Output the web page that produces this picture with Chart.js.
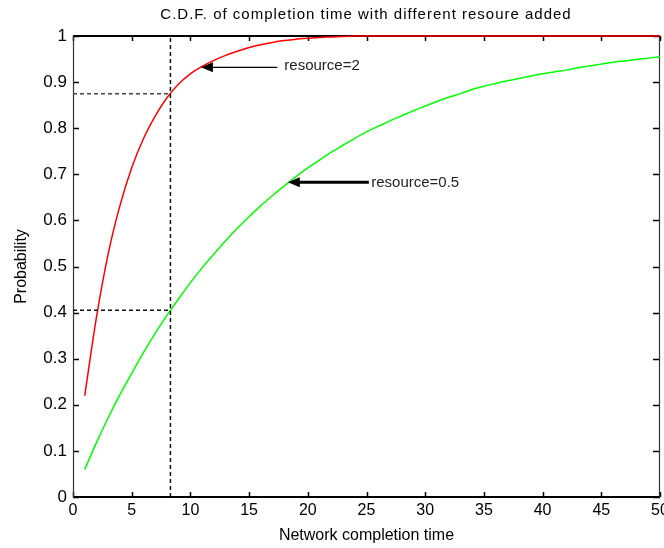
<!DOCTYPE html>
<html>
<head>
<meta charset="utf-8">
<script src="https://cdn.jsdelivr.net/npm/chart.js@4/dist/chart.umd.min.js"></script>
<style>
  html, body { margin: 0; padding: 0; background: #ffffff; }
  #wrap { width: 664px; height: 548px; position: relative; }
</style>
</head>
<body>
<div id="wrap"><canvas id="c" width="664" height="548"></canvas></div>
<script>
// ---- data ----
const completionTime = [1,2,3,4,5,6,7,8,9,10,11,12,13,14,15,16,17,18,19,20,21,22,23,24,25,26,27,28,29,30,31,32,33,34,35,36,37,38,39,40,41,42,43,44,45,46,47,48,49,50];
const cdfResource2 = [0.22,0.39,0.528,0.632,0.714,0.777,0.826,0.866,0.896,0.918,0.934,0.947,0.958,0.967,0.975,0.981,0.986,0.99,0.993,0.995,0.997,0.998,0.999,1,1,1,1,1,1,1,1,1,1,1,1,1,1,1,1,1,1,1,1,1,1,1,1,1,1,1];
const cdfResource05 = [0.06,0.118,0.172,0.222,0.268,0.313,0.355,0.394,0.43,0.465,0.497,0.527,0.556,0.583,0.608,0.632,0.654,0.675,0.695,0.714,0.731,0.748,0.763,0.778,0.792,0.804,0.816,0.827,0.838,0.848,0.858,0.867,0.875,0.884,0.891,0.897,0.903,0.908,0.913,0.918,0.922,0.926,0.931,0.935,0.939,0.943,0.946,0.949,0.952,0.955];
const xTickValues = [0,5,10,15,20,25,30,35,40,45,50];
const yTickValues = [0,0.1,0.2,0.3,0.4,0.5,0.6,0.7,0.8,0.9,1];
const refTime = 8.3;
const refProbHigh = 0.875;
const refProbLow = 0.405;
const labelResource2 = 'resource=2';
const labelResource05 = 'resource=0.5';

// annotation anchors in data units
const notes = [
  { text: labelResource2, tip: [10.9, 0.932], tail: [17.4, 0.932], textAt: [18.0, 0.936], lw: 1.3 },
  { text: labelResource05, tip: [18.3, 0.683], tail: [25.2, 0.683], textAt: [25.4, 0.681], lw: 3 }
];

const FONT = '"Liberation Sans", Arial, Helvetica, sans-serif';

const pts = (xs, ys) => xs.map((x, i) => ({ x: x, y: ys[i] }));

const framePlugin = {
  id: 'frame',
  beforeDatasetsDraw(chart) {
    const { ctx, chartArea: a, scales } = chart;
    ctx.save();
    ctx.strokeStyle = '#000';
    ctx.lineWidth = 1.5;
    ctx.beginPath();
    xTickValues.forEach(v => {
      const px = Math.round(scales.x.getPixelForValue(v)) + 0.5;
      ctx.moveTo(px, a.bottom); ctx.lineTo(px, a.bottom - 5);
      ctx.moveTo(px, a.top); ctx.lineTo(px, a.top + 5);
    });
    yTickValues.forEach(v => {
      const py = Math.round(scales.y.getPixelForValue(v)) + 0.5;
      ctx.moveTo(a.left, py); ctx.lineTo(a.left + 6, py);
      ctx.moveTo(a.right, py); ctx.lineTo(a.right - 7, py);
    });
    ctx.stroke();
    ctx.lineWidth = 2;
    ctx.beginPath();
    ctx.moveTo(a.left, a.top); ctx.lineTo(a.right, a.top);
    ctx.moveTo(a.left, a.bottom); ctx.lineTo(a.right, a.bottom);
    ctx.stroke();
    ctx.lineWidth = 1.2;
    ctx.strokeStyle = '#333';
    ctx.beginPath();
    ctx.moveTo(a.left + 0.5, a.top); ctx.lineTo(a.left + 0.5, a.bottom);
    ctx.moveTo(a.right - 0.5, a.top); ctx.lineTo(a.right - 0.5, a.bottom);
    ctx.stroke();
    ctx.restore();
  },
  afterDraw(chart) {
    const { ctx, scales } = chart;
    ctx.save();
    ctx.fillStyle = '#000';
    ctx.font = '15px ' + FONT;
    ctx.textAlign = 'center';
    ctx.textBaseline = 'middle';
    try { ctx.letterSpacing = '1px'; } catch (e) {}
    ctx.fillText('C.D.F. of completion time with different resoure added', 366, 15);
    try { ctx.letterSpacing = '0px'; } catch (e) {}
    notes.forEach(n => {
      const tx = scales.x.getPixelForValue(n.tip[0]);
      const ty = scales.y.getPixelForValue(n.tip[1]);
      const sx = scales.x.getPixelForValue(n.tail[0]);
      ctx.strokeStyle = '#000';
      ctx.lineWidth = n.lw;
      ctx.beginPath();
      ctx.moveTo(tx + 8, ty); ctx.lineTo(sx, ty);
      ctx.stroke();
      ctx.fillStyle = '#000';
      ctx.beginPath();
      ctx.moveTo(tx, ty);
      ctx.lineTo(tx + 12, ty - 5);
      ctx.lineTo(tx + 12, ty + 5);
      ctx.closePath();
      ctx.fill();
      ctx.fillStyle = '#222';
      ctx.font = '15px ' + FONT;
      ctx.textAlign = 'left';
      ctx.textBaseline = 'middle';
      ctx.fillText(n.text, scales.x.getPixelForValue(n.textAt[0]), scales.y.getPixelForValue(n.textAt[1]));
    });
    ctx.restore();
  }
};

const dashStyle = { borderColor: '#111', borderWidth: 1.5, borderDash: [4, 3], pointRadius: 0, fill: false, tension: 0 };

new Chart(document.getElementById('c'), {
  type: 'line',
  data: {
    datasets: [
      Object.assign({ label: 'ref vertical', data: [{ x: refTime, y: 0 }, { x: refTime, y: 1 }] }, dashStyle),
      Object.assign({ label: 'ref high', data: [{ x: 0, y: refProbHigh }, { x: refTime, y: refProbHigh }] }, dashStyle, { borderColor: '#444' }),
      Object.assign({ label: 'ref low', data: [{ x: 0, y: refProbLow }, { x: refTime, y: refProbLow }] }, dashStyle),
      { label: labelResource05, data: pts(completionTime, cdfResource05), borderColor: '#00ff00', borderWidth: 1.5, pointRadius: 0, cubicInterpolationMode: 'monotone', fill: false },
      { label: labelResource2, data: pts(completionTime, cdfResource2), borderColor: '#ff0000', borderWidth: 1.5, pointRadius: 0, cubicInterpolationMode: 'monotone', fill: false, clip: 2 }
    ]
  },
  options: {
    responsive: false,
    animation: false,
    devicePixelRatio: 1,
    layout: { padding: { top: 36, right: 4, left: 0, bottom: 0 } },
    plugins: { legend: { display: false }, tooltip: { enabled: false }, title: { display: false } },
    scales: {
      x: {
        type: 'linear', min: 0, max: 50,
        afterBuildTicks: s => { s.ticks = xTickValues.map(v => ({ value: v })); },
        afterFit: s => { s.height = 51; s.paddingRight = 0; s.paddingLeft = 0; },
        grid: { display: false, drawTicks: false },
        border: { display: false },
        ticks: { color: '#000', font: { family: FONT, size: 16 }, padding: 4, maxRotation: 0, autoSkip: false, callback: v => String(v) },
        title: { display: true, text: 'Network completion time', color: '#000', font: { family: FONT, size: 16 }, padding: { top: 0, bottom: 3 } }
      },
      y: {
        type: 'linear', min: 0, max: 1,
        afterBuildTicks: s => { s.ticks = yTickValues.map(v => ({ value: v })); },
        afterFit: s => { s.width = 73; s.paddingTop = 0; s.paddingBottom = 0; },
        grid: { display: false, drawTicks: false },
        border: { display: false },
        ticks: { color: '#000', font: { family: FONT, size: 17 }, padding: 6, autoSkip: false, callback: v => String(Math.round(v * 10) / 10) },
        title: { display: true, text: 'Probability', color: '#000', font: { family: FONT, size: 16 }, padding: { top: 12, bottom: 0 } }
      }
    }
  },
  plugins: [framePlugin]
});
</script>
</body>
</html>
